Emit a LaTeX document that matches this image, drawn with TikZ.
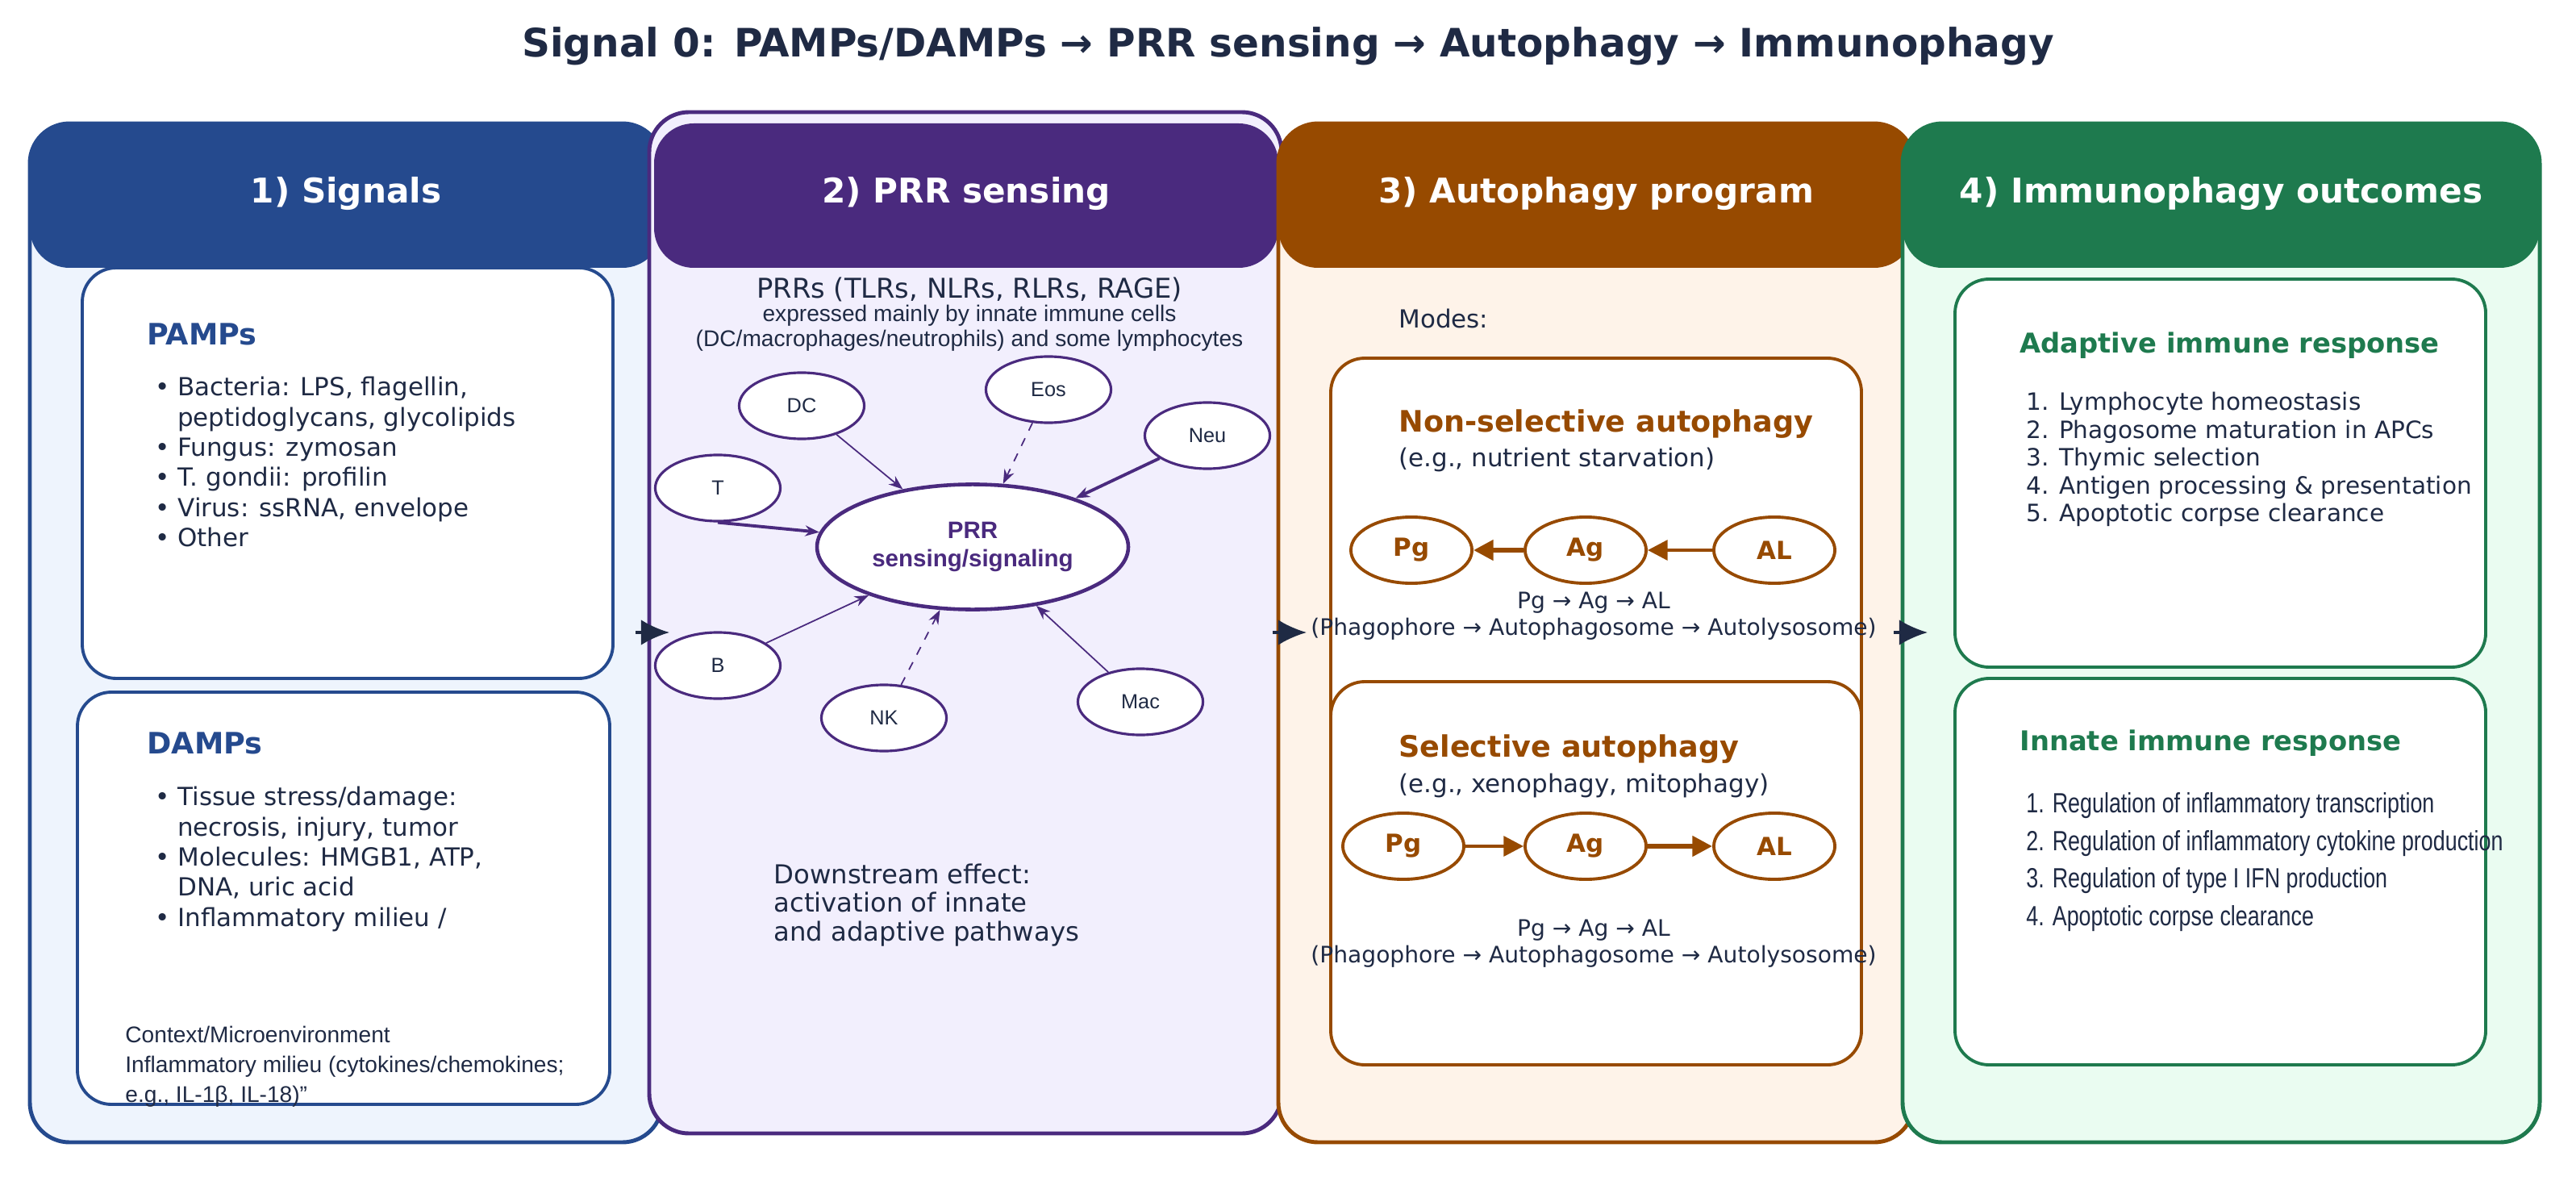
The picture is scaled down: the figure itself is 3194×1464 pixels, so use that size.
\documentclass[tikz,border=0pt]{standalone}
\usepackage{fontspec}
\setmainfont{DejaVu Sans}
\newfontfamily\arialfont{Liberation Sans}
\newfontfamily\narrowfont{Liberation Sans}[FakeStretch=0.78]
\usetikzlibrary{arrows.meta,shapes.geometric}

\definecolor{navy}{HTML}{1F2A44}
\definecolor{sigblue}{HTML}{254A8E}
\definecolor{sigfill}{HTML}{EEF4FD}
\definecolor{prrpurple}{HTML}{4A2A7E}
\definecolor{prrfill}{HTML}{F2EFFD}
\definecolor{autobrown}{HTML}{974A00}
\definecolor{autofill}{HTML}{FEF3E9}
\definecolor{outgreen}{HTML}{1E7A4E}
\definecolor{outfill}{HTML}{EAFCF1}

\tikzset{
panel/.style={draw=#1, line width=1.4pt, rounded corners=14pt},
header/.style={fill=#1, rounded corners=14pt},
hdtext/.style={text=white, font=\fontsize{12}{14}\selectfont\bfseries},
inbox/.style={draw=#1, fill=white, line width=1.1pt, rounded corners=12pt},
boxhead/.style={anchor=west, text=#1, font=\fontsize{10.4}{12}\selectfont\bfseries},
body/.style={anchor=north west, text=navy, font=\fontsize{8.8}{10.6}\selectfont, align=left},
cell/.style={ellipse, draw=prrpurple, fill=white, line width=0.9pt, minimum width=1.55cm, minimum height=0.82cm, text=navy, font=\arialfont\fontsize{7.2}{9}\selectfont},
stage/.style={ellipse, draw=autobrown, fill=white, line width=1.1pt, minimum width=1.5cm, minimum height=0.82cm, text=autobrown, font=\fontsize{8.8}{10}\selectfont\bfseries},
link/.style={draw=prrpurple, -{Stealth[length=5pt]}, line width=#1},
flow/.style={draw=navy, -{Latex[length=10pt,width=9pt]}, line width=1pt},
}

\begin{document}
\begin{tikzpicture}[x=0.01cm, y=-0.01cm]
\useasboundingbox[fill=white] (0,0) rectangle (3194,1464);

\node[text=navy, font=\fontsize{13.8}{16}\selectfont\bfseries] (title) at (1597,57)
  {Signal 0: PAMPs/DAMPs → PRR sensing → Autophagy → Immunophagy};

% panels
\filldraw[panel=sigblue, fill=sigfill] (37,153) rectangle (821,1416);
\fill[header=sigblue] (37,153) rectangle (821,332);
\filldraw[panel=prrpurple, fill=prrfill] (805,139) rectangle (1589,1405);
\fill[header=prrpurple] (811,153) rectangle (1585,332);
\filldraw[panel=autobrown, fill=autofill] (1585,153) rectangle (2373,1416);
\fill[header=autobrown] (1585,153) rectangle (2373,332);
\filldraw[panel=outgreen, fill=outfill] (2359,153) rectangle (3149,1416);
\fill[header=outgreen] (2359,153) rectangle (3149,332);

\node[hdtext] (h1) at (429,240) {1) Signals};
\node[hdtext] (h2) at (1198,240) {2) PRR sensing};
\node[hdtext] (h3) at (1979,240) {3) Autophagy program};
\node[hdtext] (h4) at (2754,240) {4) Immunophagy outcomes};

% 1) signals
\draw[inbox=sigblue] (102,332) rectangle (760,841);
\draw[inbox=sigblue] (96,858) rectangle (756,1369);
\node[boxhead=sigblue] (pamps) at (170,414) {PAMPs};
\node[body] (pampl) at (180,455) {• Bacteria: LPS, flagellin,\\
\hspace{0.9em}peptidoglycans, glycolipids\\ • Fungus: zymosan\\ • T. gondii: profilin\\
• Virus: ssRNA, envelope\\ • Other};
\node[boxhead=sigblue] (damps) at (170,921) {DAMPs};
\node[body] (dampl) at (180,963) {• Tissue stress/damage:\\
\hspace{0.9em}necrosis, injury, tumor\\ • Molecules: HMGB1, ATP,\\
\hspace{0.9em}DNA, uric acid\\ • Inflammatory milieu /};
\node[body, font=\arialfont\fontsize{8}{10.5}\selectfont] (ctx) at (143,1260)
  {Context/Microenvironment\\ Inflammatory milieu (cytokines/chemokines;\\ e.g., IL-1β, IL-18)”};

% 2) PRR sensing
\node[text=navy, font=\fontsize{9.6}{11}\selectfont] (prrs) at (1202,359) {PRRs (TLRs, NLRs, RLRs, RAGE)};
\node[text=navy, font=\arialfont\fontsize{8}{8.8}\selectfont, align=center] (expr) at (1202,407)
  {expressed mainly by innate immune cells\\ (DC/macrophages/neutrophils) and some lymphocytes};
\node[ellipse, draw=prrpurple, fill=white, line width=1.3pt, minimum width=3.35cm, minimum height=1.55cm,
  text=prrpurple, align=center, font=\arialfont\fontsize{8.4}{10}\selectfont\bfseries] (prr) at (1206,678)
  {PRR\\ sensing/signaling};
\node[cell] (dc) at (994,503) {DC};
\node[cell] (eos) at (1300,483) {Eos};
\node[cell] (neu) at (1497,540) {Neu};
\node[cell] (t) at (890,605) {T};
\node[cell] (b) at (890,825) {B};
\node[cell] (nk) at (1096,890) {NK};
\node[cell] (mac) at (1414,870) {Mac};
\draw[link=0.5pt] (dc) -- (prr);
\draw[link=0.5pt, dashed] (eos) -- (prr);
\draw[link=1.1pt] (neu) -- (prr);
\draw[link=1.1pt] (t.south) -- (prr);
\draw[link=0.5pt] (b) -- (prr);
\draw[link=0.5pt, dashed] (nk) -- (prr);
\draw[link=0.5pt] (mac) -- (prr);
\node[body, font=\fontsize{9.2}{10.2}\selectfont] (down) at (947,1058)
  {Downstream effect:\\ activation of innate\\ and adaptive pathways};

% 3) autophagy program
\node[body, anchor=west] (modes) at (1722,395) {Modes:};
\draw[inbox=autobrown] (1650,444) rectangle (2308,1000);
\draw[inbox=autobrown] (1650,845) rectangle (2308,1320);
\node[boxhead=autobrown] (nonsel) at (1722,526) {Non-selective autophagy};
\node[body, anchor=west] (nonsub) at (1722,570) {(e.g., nutrient starvation)};
\node[stage] (pg1) at (1750,682) {Pg};
\node[stage] (ag1) at (1966,682) {Ag};
\node[stage] (al1) at (2200,682) {AL};
\draw[autobrown, line width=1.2pt, -{Triangle[length=7pt,width=7pt]}] (al1) -- (ag1);
\draw[autobrown, line width=1.6pt, -{Triangle[length=7pt,width=7pt]}] (ag1) -- (pg1);
\node[text=navy, align=center, font=\fontsize{8}{9.3}\selectfont] (seq1) at (1976,764)
  {Pg → Ag → AL\\ (Phagophore → Autophagosome → Autolysosome)};
\node[boxhead=autobrown] (sel) at (1722,929) {Selective autophagy};
\node[body, anchor=west] (selsub) at (1722,974) {(e.g., xenophagy, mitophagy)};
\node[stage] (pg2) at (1740,1049) {Pg};
\node[stage] (ag2) at (1966,1049) {Ag};
\node[stage] (al2) at (2200,1049) {AL};
\draw[autobrown, line width=1.2pt, -{Triangle[length=7pt,width=7pt]}] (pg2) -- (ag2);
\draw[autobrown, line width=1.6pt, -{Triangle[length=7pt,width=7pt]}] (ag2) -- (al2);
\node[text=navy, align=center, font=\fontsize{8}{9.3}\selectfont] (seq2) at (1976,1170)
  {Pg → Ag → AL\\ (Phagophore → Autophagosome → Autolysosome)};

% 4) outcomes
\draw[inbox=outgreen] (2424,346) rectangle (3082,827);
\draw[inbox=outgreen] (2424,841) rectangle (3082,1320);
\node[boxhead=outgreen, font=\fontsize{9.6}{11}\selectfont\bfseries] (adapt) at (2492,428) {Adaptive immune response};
\node[body, font=\fontsize{8.4}{9.8}\selectfont] (adaptl) at (2500,474)
  {1. Lymphocyte homeostasis\\ 2. Phagosome maturation in APCs\\ 3. Thymic selection\\
  4. Antigen processing \& presentation\\ 5. Apoptotic corpse clearance};
\node[boxhead=outgreen, font=\fontsize{9.6}{11}\selectfont\bfseries] (innate) at (2492,921) {Innate immune response};
\node[body, font=\narrowfont\fontsize{9.8}{13.3}\selectfont] (innatel) at (2500,970)
  {1. Regulation of inflammatory transcription\\ 2. Regulation of inflammatory cytokine production\\
  3. Regulation of type I IFN production\\ 4. Apoptotic corpse clearance};

% flow between panels
\coordinate (f1) at (788,784);
\coordinate (f2) at (1578,784);
\coordinate (f3) at (2348,784);
\draw[flow] (f1) -- ++(42,0);
\draw[flow] (f2) -- ++(42,0);
\draw[flow] (f3) -- ++(42,0);

\end{tikzpicture}
\end{document}
